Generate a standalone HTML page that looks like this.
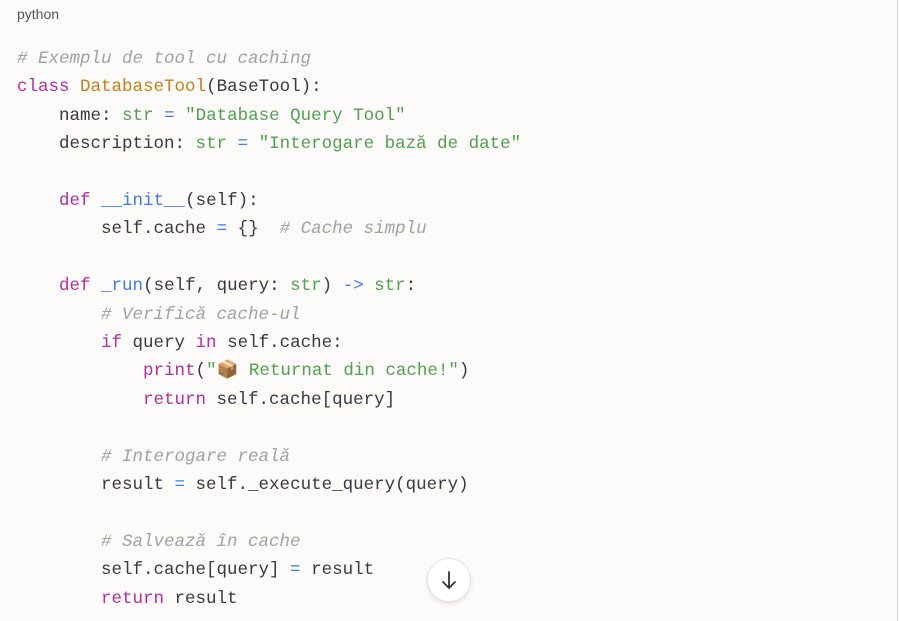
<!DOCTYPE html>
<html><head><meta charset="utf-8"><style>
html,body{margin:0;padding:0;}
body{width:900px;height:621px;background:#fcfbf9;position:relative;overflow:hidden;font-family:"Liberation Sans",sans-serif;}
.edge{position:absolute;left:897px;top:0;width:1px;height:621px;background:#e2e0dc;}
.lang{position:absolute;left:17px;top:6px;font-size:14px;color:#555;}
pre{position:absolute;left:17px;top:45px;margin:0;font-family:"Liberation Mono","DejaVu Sans Mono",monospace;font-size:17.5px;line-height:28.4px;color:#383a42;}
.c{color:#a0a1a7;font-style:italic;}
.k{color:#b0309e;}
.n{color:#c47f17;}
.s{color:#50a14f;}
.o{color:#4078f2;}
.f{color:#4078f2;}
.btn{position:absolute;left:427px;top:558px;width:42px;height:42px;border-radius:50%;background:#fff;border:1px solid #e6e4e0;box-shadow:0 2px 5px rgba(0,0,0,.1);}
</style></head><body>
<div class="edge"></div>
<div class="lang">python</div>
<pre><span class="c"># Exemplu de tool cu caching</span>
<span class="k">class</span> <span class="n">DatabaseTool</span>(BaseTool):
    name: <span class="s">str</span> <span class="o">=</span> <span class="s">"Database Query Tool"</span>
    description: <span class="s">str</span> <span class="o">=</span> <span class="s">"Interogare bază de date"</span>

    <span class="k">def</span> <span class="f">__init__</span>(self):
        self.cache <span class="o">=</span> {}  <span class="c"># Cache simplu</span>

    <span class="k">def</span> <span class="f">_run</span>(self, query: <span class="s">str</span>) <span class="o">-&gt;</span> <span class="s">str</span>:
        <span class="c"># Verifică cache-ul</span>
        <span class="k">if</span> query <span class="k">in</span> self.cache:
            <span class="k">print</span>(<span class="s">"📦 Returnat din cache!"</span>)
            <span class="k">return</span> self.cache[query]

        <span class="c"># Interogare reală</span>
        result <span class="o">=</span> self._execute_query(query)

        <span class="c"># Salvează în cache</span>
        self.cache[query] <span class="o">=</span> result
        <span class="k">return</span> result</pre>
<div class="btn"><svg width="42" height="42" viewBox="0 0 42 42" style="position:absolute;left:0;top:0"><path d="M21 13 V29 M15 23 L21 29 L27 23" stroke="#333" stroke-width="1.8" fill="none" stroke-linecap="round" stroke-linejoin="round"/></svg></div>
</body></html>
